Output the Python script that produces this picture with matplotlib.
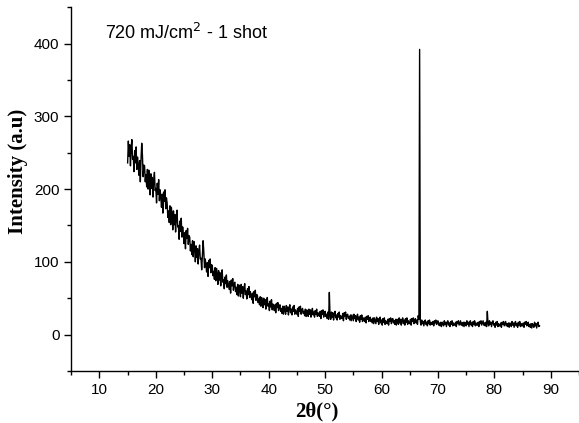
import numpy as np
import matplotlib
matplotlib.use("Agg")
import matplotlib.pyplot as plt
from matplotlib.ticker import MultipleLocator

# scan grid: 15 -> 88 deg, 0.125 deg step
two_theta = np.arange(15.0, 88.001, 0.125)

# intensity, 8 values per degree
intensity = [
    236, 266, 245, 261, 232, 257, 268, 241,   # 15
    245, 224, 253, 236, 258, 227, 244, 233,   # 16
    219, 239, 210, 242, 263, 246, 217, 233,   # 17
    232, 210, 220, 203, 227, 200, 226, 215,   # 18
    192, 221, 201, 216, 189, 213, 223, 198,   # 19
    201, 181, 208, 193, 213, 184, 199, 189,   # 20
    175, 193, 167, 196, 183, 199, 173, 188,   # 21
    181, 161, 170, 154, 177, 151, 175, 165,   # 22
    144, 170, 151, 165, 141, 162, 171, 148,   # 23
    150, 131, 156, 142, 160, 134, 148, 139,   # 24
    125, 140, 118, 143, 132, 146, 124, 136,   # 25
    134, 115, 124, 110, 129, 107, 128, 120,   # 26
    100, 122, 106, 118, 97, 115, 123, 104,    # 27
    105, 89, 110, 129, 114, 92, 104, 96,      # 28
    86, 99, 80, 102, 92, 104, 85, 96,         # 29
    95, 81, 87, 76, 92, 74, 91, 84,           # 30
    69, 88, 75, 85, 67, 82, 89, 72,           # 31
    75, 63, 79, 70, 82, 65, 74, 68,           # 32
    62, 73, 57, 75, 67, 77, 61, 70,           # 33
    72, 59, 65, 55, 69, 53, 68, 62,           # 34
    52, 69, 57, 66, 50, 64, 70, 55,           # 35
    60, 49, 63, 55, 66, 51, 59, 53,           # 36
    48, 57, 43, 59, 52, 61, 47, 55,           # 37
    54, 44, 49, 41, 52, 39, 51, 46,           # 38
    37, 50, 41, 48, 35, 46, 51, 39,           # 39
    42, 33, 46, 38, 48, 34, 42, 37,           # 40
    33, 41, 30, 43, 37, 44, 33, 39,           # 41
    41, 32, 36, 29, 39, 28, 39, 34,           # 42
    28, 40, 32, 38, 27, 37, 41, 30,           # 43
    35, 27, 38, 32, 40, 28, 34, 30,           # 44
    28, 36, 25, 38, 32, 39, 28, 34,           # 45
    36, 29, 32, 26, 35, 25, 34, 30,           # 46
    25, 35, 28, 34, 24, 32, 36, 27,           # 47
    31, 24, 33, 28, 35, 25, 30, 27,           # 48
    25, 32, 22, 33, 28, 34, 24, 30,           # 49
    32, 25, 28, 22, 31, 21, 58, 26,           # 50
    21, 31, 24, 30, 20, 28, 32, 23,           # 51
    27, 20, 29, 24, 31, 21, 26, 23,           # 52
    22, 29, 19, 30, 25, 31, 21, 27,           # 53
    28, 22, 25, 20, 27, 19, 27, 23,           # 54
    19, 28, 22, 26, 18, 25, 28, 20,           # 55
    24, 17, 26, 21, 27, 18, 23, 20,           # 56
    18, 24, 16, 25, 21, 26, 18, 23,           # 57
    24, 18, 21, 16, 23, 15, 23, 19,           # 58
    15, 24, 18, 22, 14, 21, 24, 16,           # 59
    20, 13, 22, 17, 23, 14, 19, 16,           # 60
    15, 21, 13, 22, 18, 23, 15, 20,           # 61
    22, 16, 19, 14, 21, 13, 21, 17,           # 62
    14, 23, 16, 21, 13, 20, 23, 15,           # 63
    20, 13, 22, 17, 23, 14, 19, 16,           # 64
    15, 21, 13, 22, 18, 23, 15, 20,           # 65
    22, 16, 20, 14, 26, 21, 392, 18,          # 66
    13, 20, 15, 18, 12, 18, 20, 14,           # 67
    17, 12, 19, 15, 20, 13, 17, 14,           # 68
    14, 18, 12, 19, 16, 20, 14, 17,           # 69
    19, 13, 16, 12, 17, 11, 17, 15,           # 70
    12, 19, 14, 17, 11, 17, 19, 13,           # 71
    16, 11, 18, 14, 19, 12, 16, 13,           # 72
    13, 17, 11, 18, 15, 19, 13, 16,           # 73
    19, 13, 16, 12, 17, 11, 17, 15,           # 74
    12, 19, 14, 17, 11, 17, 19, 13,           # 75
    16, 11, 18, 14, 19, 12, 16, 13,           # 76
    13, 17, 11, 18, 15, 19, 13, 16,           # 77
    19, 13, 16, 12, 17, 11, 32, 15,           # 78
    12, 19, 14, 17, 11, 17, 19, 13,           # 79
    15, 10, 17, 13, 18, 11, 15, 12,           # 80
    12, 16, 10, 17, 14, 18, 12, 15,           # 81
    18, 12, 15, 11, 16, 10, 16, 14,           # 82
    11, 18, 13, 16, 10, 16, 18, 12,           # 83
    15, 10, 17, 13, 18, 11, 15, 12,           # 84
    12, 16, 10, 17, 14, 18, 12, 15,           # 85
    17, 11, 14, 10, 15, 9, 15, 13,            # 86
    10, 17, 12, 15, 9, 15, 17, 11,            # 87
    12,                                       # 88
]

label_text = "720 mJ/cm$^2$ - 1 shot"

fig = plt.figure(figsize=(5.79, 4.23), dpi=100)
ax = fig.add_axes([0.123, 0.123, 0.877, 0.86])

ax.plot(two_theta, intensity, color="black", lw=1.0)

ax.set_xlim(5, 95)
ax.set_ylim(-50, 450)
ax.xaxis.set_minor_locator(MultipleLocator(5))
ax.yaxis.set_minor_locator(MultipleLocator(50))
ax.set_xticks(range(10, 91, 10))
ax.set_yticks(range(0, 401, 100))

for s in ["top", "right"]:
    ax.spines[s].set_visible(False)
for s in ["left", "bottom"]:
    ax.spines[s].set_linewidth(1.0)

ax.tick_params(which="major", direction="out", length=5, width=1,
               labelsize=11, labelfontfamily="Liberation Sans")
ax.tick_params(which="minor", direction="out", length=3, width=1)

ax.set_xlabel("2θ(°)", family="Liberation Serif", weight="bold",
              fontsize=15)
ax.set_ylabel("Intensity (a.u)", family="Liberation Serif", weight="bold",
              fontsize=15)
ax.xaxis.set_label_coords(0.483, -0.085)
ax.yaxis.set_label_coords(-0.085, 0.55)

ax.text(10.9, 415, label_text, family="Liberation Sans", fontsize=13,
        va="center", ha="left")

fig.savefig("out.png", dpi=100)
